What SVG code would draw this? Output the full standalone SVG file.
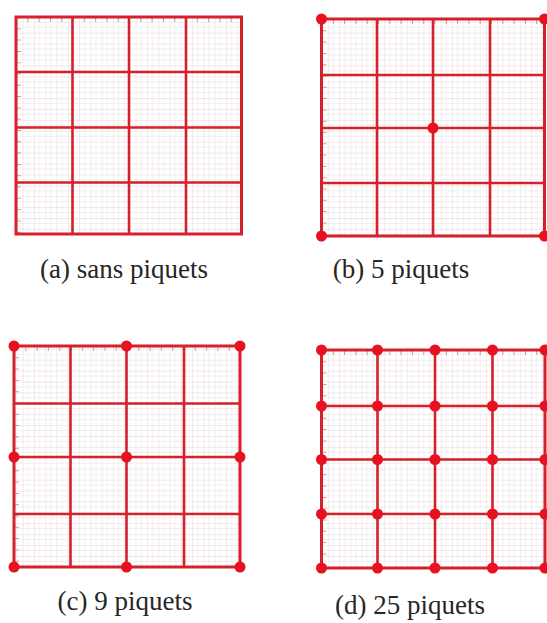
<svg xmlns="http://www.w3.org/2000/svg" width="547" height="623" viewBox="0 0 547 623">
<defs>
<pattern id="fine" patternUnits="userSpaceOnUse" width="11.3" height="10.9">
<rect width="11.3" height="10.9" fill="#ffffff"/>
<path d="M5.65 0V10.9M0 5.45H11.3" stroke="#ededed" stroke-width="0.8" fill="none"/>
<path d="M0 0V10.9M0 0H11.3" stroke="#e8d0d2" stroke-width="0.9" fill="none"/>
</pattern>
</defs>
<style>
.bg{fill:url(#fine)}
.tick{stroke:#c9404a;stroke-width:5;stroke-dasharray:1 10.3;fill:none;opacity:0.55}
.main{stroke:#d4212b;stroke-width:2.6;fill:none}
.border{stroke:#d4212b;stroke-width:3;fill:none}
.dot{fill:#e8111f}
.lbl{font-size:27px;fill:#262626;text-anchor:middle}
</style>
<rect width="547" height="623" fill="#ffffff"/>

<g id="panel-a">
<rect class="bg" x="16" y="17" width="225.5" height="217"/>
<path class="tick" d="M16 19.5H241.5M18.5 17V234"/>
<path class="main" d="M72.5 17V234M129 17V234M186 17V234M16 72H241.5M16 127.5H241.5M16 182.5H241.5"/>
<rect class="border" x="16" y="17" width="225.5" height="217"/>
<text class="lbl" font-family="Liberation Serif, Times New Roman, DejaVu Serif, serif" x="124" y="278">(a) sans piquets</text>
</g>

<g id="panel-b">
<rect class="bg" x="321.5" y="19" width="223" height="217"/>
<path class="tick" d="M321.5 21.5H544.5M324 19V236"/>
<path class="main" d="M377 19V236M433 19V236M490 19V236M321.5 75H544.5M321.5 128H544.5M321.5 183H544.5"/>
<rect class="border" x="321.5" y="19" width="223" height="217"/>
<circle class="dot" cx="321.5" cy="19" r="5.5"/>
<circle class="dot" cx="544.5" cy="19" r="5.5"/>
<circle class="dot" cx="321.5" cy="236" r="5.5"/>
<circle class="dot" cx="544.5" cy="236" r="5.5"/>
<circle class="dot" cx="433" cy="128" r="5.5"/>
<text class="lbl" font-family="Liberation Serif, Times New Roman, DejaVu Serif, serif" x="401" y="278">(b) 5 piquets</text>
</g>

<g id="panel-c">
<rect class="bg" x="14" y="346" width="226" height="221"/>
<path class="tick" d="M14 348.5H240M16.5 346V567"/>
<path class="main" d="M70.5 346V567M126.5 346V567M184 346V567M14 403.5H240M14 457H240M14 514H240"/>
<rect class="border" x="14" y="346" width="226" height="221"/>
<circle class="dot" cx="14" cy="346" r="5.5"/>
<circle class="dot" cx="126.5" cy="346" r="5.5"/>
<circle class="dot" cx="240" cy="346" r="5.5"/>
<circle class="dot" cx="14" cy="457" r="5.5"/>
<circle class="dot" cx="126.5" cy="457" r="5.5"/>
<circle class="dot" cx="240" cy="457" r="5.5"/>
<circle class="dot" cx="14" cy="567" r="5.5"/>
<circle class="dot" cx="126.5" cy="567" r="5.5"/>
<circle class="dot" cx="240" cy="567" r="5.5"/>
<text class="lbl" font-family="Liberation Serif, Times New Roman, DejaVu Serif, serif" x="125" y="610">(c) 9 piquets</text>
</g>

<g id="panel-d">
<rect class="bg" x="321.5" y="350" width="223.5" height="218"/>
<path class="tick" d="M321.5 352.5H545M324 350V568"/>
<path class="main" d="M377.5 350V568M435 350V568M492.5 350V568M321.5 406H545M321.5 459.5H545M321.5 514H545"/>
<rect class="border" x="321.5" y="350" width="223.5" height="218"/>
<g class="dot">
<circle cx="321.5" cy="350" r="5.5"/><circle cx="377.5" cy="350" r="5.5"/><circle cx="435" cy="350" r="5.5"/><circle cx="492.5" cy="350" r="5.5"/><circle cx="545" cy="350" r="5.5"/>
<circle cx="321.5" cy="406" r="5.5"/><circle cx="377.5" cy="406" r="5.5"/><circle cx="435" cy="406" r="5.5"/><circle cx="492.5" cy="406" r="5.5"/><circle cx="545" cy="406" r="5.5"/>
<circle cx="321.5" cy="459.5" r="5.5"/><circle cx="377.5" cy="459.5" r="5.5"/><circle cx="435" cy="459.5" r="5.5"/><circle cx="492.5" cy="459.5" r="5.5"/><circle cx="545" cy="459.5" r="5.5"/>
<circle cx="321.5" cy="514" r="5.5"/><circle cx="377.5" cy="514" r="5.5"/><circle cx="435" cy="514" r="5.5"/><circle cx="492.5" cy="514" r="5.5"/><circle cx="545" cy="514" r="5.5"/>
<circle cx="321.5" cy="568" r="5.5"/><circle cx="377.5" cy="568" r="5.5"/><circle cx="435" cy="568" r="5.5"/><circle cx="492.5" cy="568" r="5.5"/><circle cx="545" cy="568" r="5.5"/>
</g>
<text class="lbl" font-family="Liberation Serif, Times New Roman, DejaVu Serif, serif" x="410" y="614">(d) 25 piquets</text>
</g>
</svg>
